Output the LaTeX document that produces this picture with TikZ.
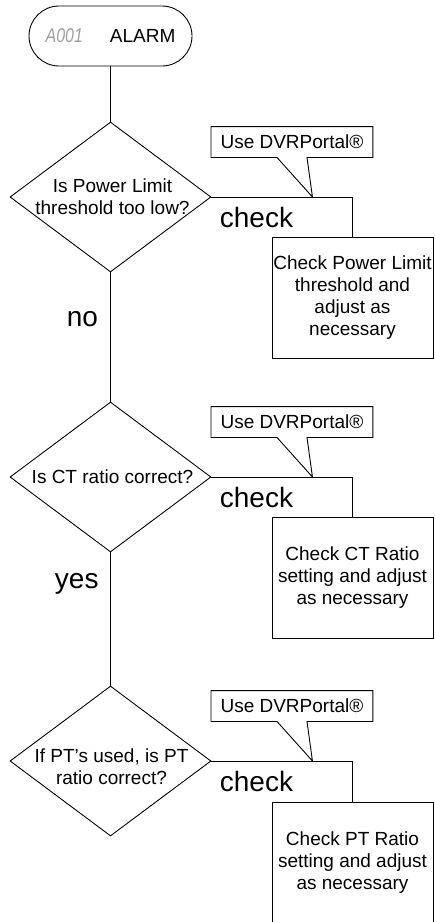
\documentclass[tikz,border=0pt]{standalone}
\usepackage{fontspec}
\setmainfont{Liberation Sans}
\usepackage{graphicx}
\usetikzlibrary{shapes.geometric,calc}

\begin{document}
\begin{tikzpicture}[
  x=1pt, y=-1pt,
  line width=0.9pt,
  txt/.style    = {font=\fontsize{19}{22}\selectfont, align=center, inner sep=0pt},
  big/.style    = {font=\fontsize{28}{30}\selectfont, inner sep=0pt},
  term/.style   = {draw, rounded corners=30pt, minimum width=163pt, minimum height=60pt, txt},
  dec/.style    = {draw, diamond, minimum width=201pt, minimum height=150pt, inner sep=0pt},
  chk/.style    = {draw, rectangle, minimum width=161pt, minimum height=121pt, txt},
  tipbox/.style = {minimum width=161pt, minimum height=30pt, txt},
]
\useasboundingbox (0,0) rectangle (435,922);

%% start
\node[term] (alarm) at (110.5,36)
  {{\color{gray!75}\fontsize{20}{20}\selectfont\itshape\scalebox{0.8}[1]{A001}}\hspace{27pt}ALARM};

%% the three questions
\node[dec] (d1) at (110.5,197) {};
\node[dec] (d2) at (110.5,477) {};
\node[dec] (d3) at (110.5,761) {};
\node[txt] (q1) at ($(d1)+(2,0)$) {Is Power Limit\\threshold too low?};
\node[txt] (q2) at ($(d2)+(2,0)$) {Is CT ratio correct?};
\node[txt] (q3) at ($(d3)+(1,6)$) {If PT’s used, is PT\\ratio correct?};

%% what to do
\node[chk] (c1) at (352.5,297.5) {Check Power Limit\\threshold and\\adjust as\\necessary};
\node[chk] (c2) at (352.5,577.5) {Check CT Ratio\\setting and adjust\\as necessary};
\node[chk] (c3) at (352.5,862.5) {Check PT Ratio\\setting and adjust\\as necessary};

%% main line
\draw (alarm) -- (d1);
\draw (d1) -- (d2);
\draw (d2) -- (d3);
\node[big, anchor=base east] (no)  at (98.5,326) {no};
\node[big, anchor=base east] (yes) at (99,588)   {yes};

%% side branches with callouts
\foreach \i in {1,2,3} {
  \coordinate (tip\i) at ($(d\i.east)+(101,0)$);
  \node[tipbox] (u\i) at ($(d\i.east)+(80.5,-55)$) {Use DVRPortal®};
  \draw (u\i.south west) -- (u\i.north west) -- (u\i.north east) -- (u\i.south east)
     -- ($(u\i.south west)+(96,0)$) -- (tip\i) -- ($(u\i.south west)+(66,0)$) -- cycle;
  \node[big, anchor=base west] (ck\i) at ($(d\i.east)+(8,30)$) {check};
  \draw (d\i.east) -| (c\i.north);
}

\end{tikzpicture}
\end{document}
